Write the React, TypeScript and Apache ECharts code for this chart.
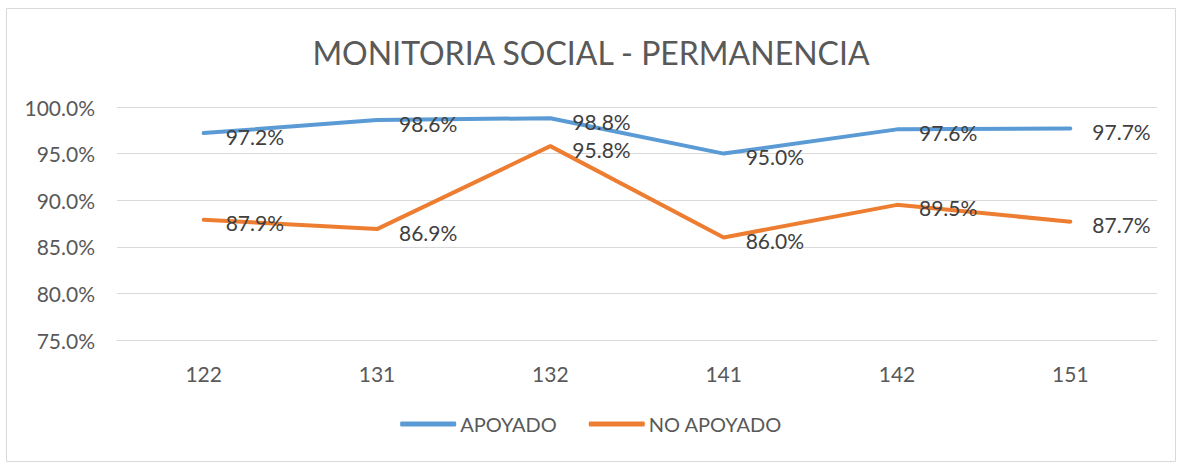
import React, { useEffect, useRef } from "react";
import * as echarts from "echarts";

const categories = ["122", "131", "132", "141", "142", "151"];
const apoyado = [97.2, 98.6, 98.8, 95.0, 97.6, 97.7];
const noApoyado = [87.9, 86.9, 95.8, 86.0, 89.5, 87.7];
const seriesNames = ["APOYADO", "NO APOYADO"];
const titleText = "MONITORIA SOCIAL - PERMANENCIA";

const FONT = "Lato, 'Open Sans', sans-serif";

export default function App() {
  const ref = useRef<HTMLDivElement>(null);
  useEffect(() => {
    if (!ref.current) return;
    const chart = echarts.init(ref.current, null, { renderer: "svg" });
    const label = {
      show: true,
      position: "right",
      distance: 21,
      offset: [0, 3],
      fontSize: 21,
      fontFamily: FONT,
      color: "#404040",
      formatter: (p: any) => p.value.toFixed(1) + "%",
    };
    chart.setOption({
      animation: false,
      backgroundColor: "#ffffff",
      title: {
        text: titleText,
        left: "center",
        top: 31,
        textStyle: { fontSize: 32, fontWeight: "normal", color: "#595959", fontFamily: FONT },
      },
      graphic: [
        {
          type: "rect",
          shape: { x: 6.5, y: 8.5, width: 1169, height: 453 },
          style: { fill: "none", stroke: "#D9D9D9", lineWidth: 1 },
          silent: true,
        },
      ],
      grid: { left: 117, right: 25, top: 107, bottom: 123 },
      legend: {
        bottom: 24,
        left: "center",
        icon: "roundRect",
        itemWidth: 56,
        itemHeight: 5,
        itemGap: 32,
        itemStyle: { opacity: 1 },
        textStyle: { fontSize: 20, color: "#595959", fontFamily: FONT, padding: [0, 0, 0, -1] },
        data: seriesNames,
      },
      xAxis: {
        type: "category",
        data: categories,
        axisLine: { show: true, lineStyle: { color: "#D9D9D9" } },
        axisTick: { show: false },
        axisLabel: { margin: 23, fontSize: 21, color: "#595959", fontFamily: FONT },
      },
      yAxis: {
        type: "value",
        min: 75,
        max: 100,
        interval: 5,
        axisLine: { show: false },
        axisTick: { show: false },
        splitLine: { lineStyle: { color: "#D9D9D9", width: 1 } },
        axisLabel: {
          margin: 22,
          fontSize: 21,
          color: "#595959",
          fontFamily: FONT,
          formatter: (v: number) => v.toFixed(1) + "%",
        },
      },
      series: [
        {
          name: seriesNames[0],
          type: "line",
          data: apoyado,
          symbol: "circle",
          symbolSize: 2,
          showSymbol: true,
          lineStyle: { color: "#5B9BD5", width: 4, cap: "round" },
          itemStyle: { color: "#5B9BD5" },
          label,
        },
        {
          name: seriesNames[1],
          type: "line",
          data: noApoyado,
          symbol: "circle",
          symbolSize: 2,
          showSymbol: true,
          lineStyle: { color: "#ED7D31", width: 4, cap: "round" },
          itemStyle: { color: "#ED7D31" },
          label,
        },
      ],
    });
    return () => chart.dispose();
  }, []);
  return (
    <div
      ref={ref}
      style={{ position: "absolute", left: 0, top: 0, width: 1182, height: 463 }}
    />
  );
}
